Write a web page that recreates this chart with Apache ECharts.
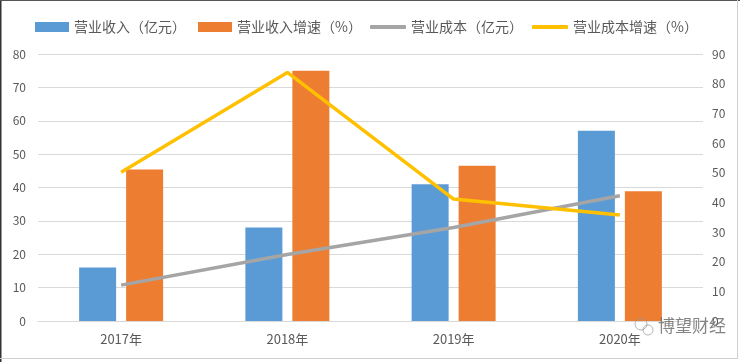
<!DOCTYPE html>
<html><head><meta charset="utf-8">
<script src="https://cdn.jsdelivr.net/npm/echarts@6/dist/echarts.min.js"></script>
<style>html,body{margin:0;padding:0;background:#fff}#c{width:740px;height:362px}</style>
</head><body><div id="c"></div>
<script>
const categories = ['2017年', '2018年', '2019年', '2020年'];
const revenue = [16, 28, 41, 57];
const revenueGrowth = [45.4, 75, 46.5, 38.9];
const cost = [12.1, 22.4, 31.5, 42.2];
const costGrowth = [50.1, 83.8, 41.1, 35.7];
const seriesNames = ['营业收入（亿元）', '营业收入增速（%）', '营业成本（亿元）', '营业成本增速（%）'];

const font = '"Microsoft YaHei","Noto Sans CJK SC",sans-serif';
const legendText = {color: '#595959', fontSize: 14, fontFamily: font};
const chart = echarts.init(document.getElementById('c'), null, {renderer: 'canvas'});
chart.setOption({
  animation: false,
  color: ['#5B9BD5', '#ED7D31', '#A5A5A5', '#FFC000'],
  legend: [{
    top: 15, left: 30,
    itemWidth: 34, itemHeight: 10, itemGap: 12, icon: 'rect',
    textStyle: legendText,
    data: [seriesNames[0], seriesNames[1]]
  }, {
    top: 15, left: 365,
    itemWidth: 36, itemHeight: 4, itemGap: 9, icon: 'roundRect',
    textStyle: legendText,
    data: [seriesNames[2], seriesNames[3]]
  }],
  grid: {left: 38, right: 37, top: 54, bottom: 41, containLabel: false},
  xAxis: {
    type: 'category', data: categories,
    axisLine: {lineStyle: {color: '#D9D9D9', width: 1}},
    axisTick: {show: false},
    axisLabel: {color: '#595959', fontSize: 13, margin: 12, fontFamily: font}
  },
  yAxis: [{
    type: 'value', min: 0, max: 80, interval: 10,
    axisLine: {show: false}, axisTick: {show: false},
    axisLabel: {color: '#595959', fontSize: 12, margin: 12, fontFamily: font},
    splitLine: {lineStyle: {color: '#D9D9D9', width: 1}}
  }, {
    type: 'value', min: 0, max: 90, interval: 10,
    axisLine: {show: false}, axisTick: {show: false},
    axisLabel: {color: '#595959', fontSize: 12, margin: 9, fontFamily: font},
    splitLine: {show: false}
  }],
  series: [
    {name: seriesNames[0], type: 'bar', data: revenue, barWidth: 37, barGap: '27%', yAxisIndex: 0},
    {name: seriesNames[1], type: 'bar', data: revenueGrowth, barWidth: 37, barGap: '27%', yAxisIndex: 0},
    {name: seriesNames[2], type: 'line', data: cost, yAxisIndex: 1, symbol: 'none', lineStyle: {width: 3.5, color: '#A5A5A5'}, z: 3},
    {name: seriesNames[3], type: 'line', data: costGrowth, yAxisIndex: 1, symbol: 'none', lineStyle: {width: 3.5, color: '#FFC000'}, z: 4}
  ],
  graphic: [
    {type: 'line', shape: {x1: 0.75, y1: 0, x2: 0.75, y2: 362}, style: {stroke: '#333', lineWidth: 1.5}, silent: true},
    {type: 'line', shape: {x1: 0, y1: 0.5, x2: 740, y2: 0.5}, style: {stroke: '#555', lineWidth: 1}, silent: true},
    {type: 'line', shape: {x1: 0, y1: 358.5, x2: 738, y2: 358.5}, style: {stroke: '#D0D0D0', lineWidth: 1}, silent: true},
    {type: 'line', shape: {x1: 737.5, y1: 0, x2: 737.5, y2: 359}, style: {stroke: '#D0D0D0', lineWidth: 1}, silent: true},
    {type: 'text', left: 658, top: 317, style: {text: '博望财经', fill: 'rgba(110,110,110,0.85)', font: '17px "Noto Sans CJK SC",sans-serif'}, z: 100},
    {type: 'circle', shape: {cx: 641, cy: 324, r: 6}, style: {fill: 'none', stroke: 'rgba(150,150,150,0.7)', lineWidth: 1}, z: 100},
    {type: 'circle', shape: {cx: 648, cy: 330, r: 5}, style: {fill: 'none', stroke: 'rgba(150,150,150,0.7)', lineWidth: 1}, z: 100}
  ]
});
</script></body></html>
